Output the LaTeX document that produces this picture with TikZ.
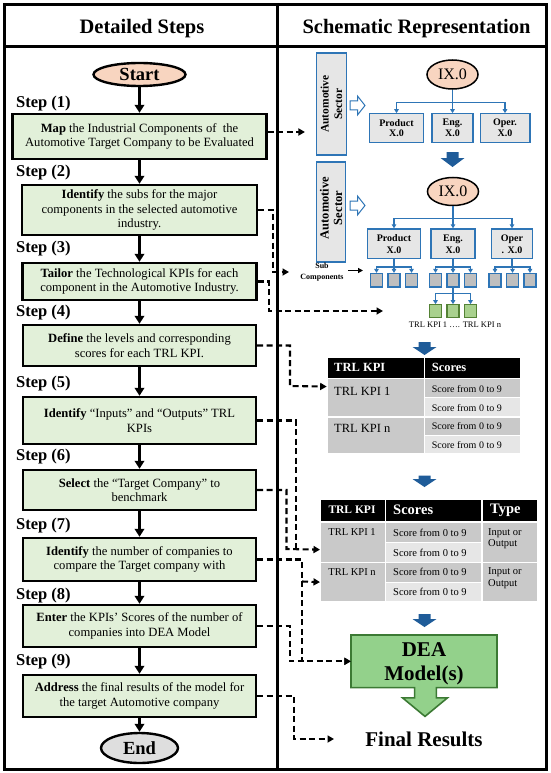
\documentclass[tikz,border=0pt]{standalone}
\usepackage{fontspec}
\setmainfont{Liberation Serif}
\usetikzlibrary{arrows.meta,shapes.geometric,calc}
\definecolor{boxgreen}{HTML}{E2F0D9}
\definecolor{peach}{HTML}{F8D5C0}
\definecolor{endgray}{HTML}{DEDEDE}
\definecolor{tblue}{HTML}{2E75B6}
\definecolor{darkblue}{HTML}{1F5C99}
\definecolor{lgray}{HTML}{E6E6E6}
\definecolor{mgray}{HTML}{C9C9C9}
\definecolor{sqgray}{HTML}{BFBFBF}
\definecolor{sqgreen}{HTML}{A9D18E}
\definecolor{sqgreenb}{HTML}{548235}
\definecolor{deagreen}{HTML}{93D18B}
\definecolor{deaborder}{HTML}{3C7A34}
\newcommand\myfs[2]{\fontsize{#1}{#2}\selectfont}
\newcommand\blkarrow[4]{\fill[darkblue] (#1-6,#2) -- (#1+6,#2) -- (#1+6,#3) -- (#1+12,#3) -- (#1,#4) -- (#1-12,#3) -- (#1-6,#3) -- cycle;}
\newcommand\hollowarrow[1]{\draw[tblue, line width=1pt, fill=white] (350,#1-4.5) -- (357.5,#1-4.5) -- (357.5,#1-9.5) -- (365,#1) -- (357.5,#1+9.5) -- (357.5,#1+4.5) -- (350,#1+4.5) -- cycle;}
\begin{document}
\begin{tikzpicture}[x=1pt,y=-1pt,
  stepbox/.style={draw, line width=2.4pt, fill=boxgreen, align=center, inner sep=0pt, font=\myfs{12.6}{14.4}},
  steplabel/.style={anchor=west, font=\bfseries\myfs{16.5}{18}, inner sep=0pt},
  flow/.style={line width=2.4pt, -{Triangle[width=9.5pt,length=8pt]}},
  dline/.style={line width=2.1pt, dash pattern=on 6pt off 3.5pt},
  dconn/.style={dline, -{Triangle[width=7pt,length=6.5pt]}},
  secbox/.style={draw=tblue, line width=1.4pt, fill=lgray, inner sep=0pt},
  tbox/.style={draw=tblue, line width=1.3pt, fill=lgray, align=center, inner sep=0pt},
  tline/.style={draw=tblue, line width=1.2pt},
  tarrow/.style={tline, -{Triangle[width=4.5pt,length=4pt]}},
  sq/.style={draw=tblue, line width=1.2pt, fill=sqgray, minimum width=12, minimum height=13.5, inner sep=0pt},
  gsq/.style={draw=sqgreenb, line width=1.2pt, fill=sqgreen, minimum width=12, minimum height=13, inner sep=0pt},
  ixell/.style={ellipse, draw, line width=1.5pt, fill=peach, minimum width=51, minimum height=29, inner sep=0pt, font=\myfs{16}{18}},
  cell/.style={draw=white, line width=1.2pt, anchor=north west, inner sep=0pt},
  ctext/.style={anchor=west, inner sep=0pt},
]
\useasboundingbox (0,0) rectangle (550,773);
% frame
\draw[line width=3pt] (4,5) rectangle (546,769);
\draw[line width=3pt] (4,46.5) -- (546,46.5);
\draw[line width=3pt] (277,5) -- (277,769);
\node[font=\bfseries\myfs{20.5}{24}] (h1) at (142,29) {Detailed Steps};
\node[font=\bfseries\myfs{20.5}{24}] (h2) at (416.5,29) {Schematic Representation};

% ---------- left column ----------
\node[ellipse, draw, line width=2.4pt, fill=peach, minimum width=92, minimum height=23, inner sep=0pt, font=\bfseries\myfs{18.5}{20}] (start) at (139.5,74.5) {Start};

\node[stepbox, minimum width=254, minimum height=45] (b1) at (139.5,136.5) {\textbf{Map} the Industrial Components of~ the\\Automotive Target Company to be Evaluated};
\node[stepbox, minimum width=235, minimum height=50] (b2) at (139.5,210) {\textbf{Identify} the subs for the major\\components in the selected automotive\\industry.};
\node[stepbox, minimum width=234, minimum height=37] (b3) at (139.5,281.5) {\textbf{Tailor} the Technological KPIs for each\\component in the Automotive Industry.};
\node[stepbox, minimum width=233, minimum height=41] (b4) at (139.5,345.5) {\textbf{Define} the levels and corresponding\\scores for each TRL KPI.};
\node[stepbox, minimum width=233, minimum height=47] (b5) at (139.5,420.5) {\textbf{Identify} “Inputs” and “Outputs” TRL\\KPIs};
\node[stepbox, minimum width=233, minimum height=40] (b6) at (139.5,490) {\textbf{Select} the “Target Company” to\\benchmark};
\node[stepbox, minimum width=233, minimum height=43] (b7) at (139.5,559.5) {\textbf{Identify} the number of companies to\\compare the Target company with};
\node[stepbox, minimum width=233, minimum height=42] (b8) at (139.5,626) {\textbf{Enter} the KPIs' Scores of the number of\\companies into DEA Model};
\node[stepbox, minimum width=233, minimum height=42] (b9) at (139.5,696) {\textbf{Address} the final results of the model for\\the target Automotive company};

\node[ellipse, draw, line width=2.4pt, fill=endgray, minimum width=77, minimum height=30, inner sep=0pt, font=\bfseries\myfs{18.5}{20}] (end) at (139.5,748) {End};

\node[steplabel] (s1) at (16,104) {Step (1)};
\node[steplabel] (s2) at (16,173) {Step (2)};
\node[steplabel] (s3) at (16,249) {Step (3)};
\node[steplabel] (s4) at (16,313) {Step (4)};
\node[steplabel] (s5) at (16,384) {Step (5)};
\node[steplabel] (s6) at (16,456.5) {Step (6)};
\node[steplabel] (s7) at (16,526) {Step (7)};
\node[steplabel] (s8) at (16,596) {Step (8)};
\node[steplabel] (s9) at (16,661.5) {Step (9)};

\draw[flow] (start.south) -- (b1.north);
\draw[flow] (b1.south) -- (b2.north);
\draw[flow] (b2.south) -- (b3.north);
\draw[flow] (b3.south) -- (b4.north);
\draw[flow] (b4.south) -- (b5.north);
\draw[flow] (b5.south) -- (b6.north);
\draw[flow] (b6.south) -- (b7.north);
\draw[flow] (b7.south) -- (b8.north);
\draw[flow] (b8.south) -- (b9.north);
\draw[flow] (b9.south) -- (end.north);

% ---------- right column ----------
\node[secbox, minimum width=29.7, minimum height=102] (sec1) at (331.5,104) {};
\node[rotate=90, align=center, font=\bfseries\myfs{11.5}{13.5}] (sec1t) at (sec1) {Automotive\\Sector};
\node[secbox, minimum width=28.5, minimum height=100] (sec2) at (331,212) {};
\node[rotate=90, align=center, font=\bfseries\myfs{12.5}{13.5}] (sec2t) at (331,208) {Automotive\\Sector};
\hollowarrow{105.5}
\hollowarrow{205.5}

% tree 1
\node[ixell] (ix1) at (452.5,74.5) {IX.0};
\node[tbox, minimum width=53.4, minimum height=28.3, font=\bfseries\myfs{10}{10.5}] (p1) at (396.5,128) {Product\\X.0};
\node[tbox, minimum width=41, minimum height=28.3, font=\bfseries\myfs{10}{10.5}] (e1) at (452.5,128) {Eng.\\X.0};
\node[tbox, minimum width=49.7, minimum height=28.3, font=\bfseries\myfs{10}{10.5}] (o1) at (505,128) {Oper.\\X.0};
\coordinate (j1) at (452.5,102.6);
\draw[tline] (ix1.south) -- (j1);
\draw[tarrow] (j1) -| (p1.north);
\draw[tarrow] (j1) -- (e1.north);
\draw[tarrow] (j1) -| (o1.north);

\blkarrow{452.5}{152}{158}{167}

% tree 2
\node[ixell, minimum height=28] (ix2) at (453,191.5) {IX.0};
\node[tbox, minimum width=53.5, minimum height=29.6, font=\bfseries\myfs{10}{12}] (p2) at (394,243.8) {Product\\X.0};
\node[tbox, minimum width=44, minimum height=29.6, font=\bfseries\myfs{10}{12}] (e2) at (453,243.8) {Eng.\\X.0};
\node[tbox, minimum width=40.5, minimum height=29.6, font=\bfseries\myfs{10}{12}] (o2) at (512,243.8) {Oper\\. X.0};
\coordinate (j2) at (453,218.4);
\draw[tline] (ix2.south) -- (j2);
\draw[tarrow] (j2) -| (p2.north);
\draw[tarrow] (j2) -- (e2.north);
\draw[tarrow] (j2) -| (o2.north);

\node[sq] (sp1) at (376.5,280.3) {};
\node[sq] (sp2) at (394,280.3) {};
\node[sq] (sp3) at (411.5,280.3) {};
\node[sq] (se1) at (435.5,280.3) {};
\node[sq] (se2) at (453,280.3) {};
\node[sq] (se3) at (470.5,280.3) {};
\node[sq] (so1) at (495,280.3) {};
\node[sq] (so2) at (512.5,280.3) {};
\node[sq] (so3) at (530,280.3) {};
\coordinate (jp) at (394,267);
\coordinate (je) at (453,267);
\coordinate (jo) at (512,267);
\draw[tline] (p2.south) -- (jp);
\draw[tarrow] (jp) -| (sp1.north);
\draw[tarrow] (jp) -- (sp2.north);
\draw[tarrow] (jp) -| (sp3.north);
\draw[tline] (e2.south) -- (je);
\draw[tarrow] (je) -| (se1.north);
\draw[tarrow] (je) -- (se2.north);
\draw[tarrow] (je) -| (se3.north);
\draw[tline] (o2.south) -- (jo);
\draw[tarrow] (jo) -| (so1.north);
\draw[tarrow] (jo) -| (so2.north);
\draw[tarrow] (jo) -| (so3.north);

\node[gsq] (g1) at (435.5,311.3) {};
\node[gsq] (g2) at (453,311.3) {};
\node[gsq] (g3) at (470.5,311.3) {};
\coordinate (jg) at (453,293.5);
\draw[tline] (se2.south) -- (jg);
\draw[tarrow] (jg) -| (g1.north);
\draw[tarrow] (jg) -- (g2.north);
\draw[tarrow] (jg) -| (g3.north);

\node[font=\myfs{8.5}{10}, inner sep=0pt] (kpilist) at (455,325) {TRL KPI 1 …. TRL KPI n};

\node[align=center, font=\bfseries\myfs{8}{11}, inner sep=0pt] (subc) at (322,272.5) {Sub\\Components};
\coordinate (subend) at (363,270.5);
\draw[line width=1.3pt, -{Triangle[width=5pt,length=5pt]}] (348,270.5) -- (subend);

\blkarrow{424.5}{342}{347}{355}

% table 1
\node[cell, fill=black, minimum width=97.3, minimum height=20.5] (t1h1) at (326.7,357) {};
\node[cell, fill=black, minimum width=96, minimum height=20.5] (t1h2) at (424,357) {};
\node[cell, fill=mgray, minimum width=97.3, minimum height=38.9] (t1k1) at (326.7,377.5) {};
\node[cell, fill=mgray, minimum width=97.3, minimum height=36.2] (t1kn) at (326.7,416.4) {};
\node[cell, fill=mgray, minimum width=96, minimum height=19] (t1s1) at (424,377.5) {};
\node[cell, fill=lgray, minimum width=96, minimum height=19.9] (t1s2) at (424,396.5) {};
\node[cell, fill=mgray, minimum width=96, minimum height=18.1] (t1s3) at (424,416.4) {};
\node[cell, fill=lgray, minimum width=96, minimum height=18.1] (t1s4) at (424,434.5) {};
\node[ctext, text=white, font=\bfseries\myfs{12.5}{14}] at (334,367.5) {TRL KPI};
\node[ctext, text=white, font=\bfseries\myfs{12.5}{14}] at (431.6,367.5) {Scores};
\node[ctext, font=\myfs{12.5}{14}] at (334,391) {TRL KPI 1};
\node[ctext, font=\myfs{12.5}{14}] at (334,428) {TRL KPI n};
\node[ctext, font=\myfs{10}{12}] at (431.6,389) {Score from 0 to 9};
\node[ctext, font=\myfs{10}{12}] at (431.6,408.5) {Score from 0 to 9};
\node[ctext, font=\myfs{10}{12}] at (431.6,426.5) {Score from 0 to 9};
\node[ctext, font=\myfs{10}{12}] at (431.6,445) {Score from 0 to 9};

\blkarrow{424.5}{475.5}{479}{487}

% table 2
\node[cell, fill=black, minimum width=65, minimum height=22.7] (t2h1) at (320,498.6) {};
\node[cell, fill=black, minimum width=96.4, minimum height=22.7] (t2h2) at (385,498.6) {};
\node[cell, fill=black, minimum width=55.6, minimum height=22.7] (t2h3) at (481.4,498.6) {};
\node[cell, fill=mgray, minimum width=65, minimum height=40.7] (t2k1) at (320,521.3) {};
\node[cell, fill=mgray, minimum width=65, minimum height=39] (t2kn) at (320,562) {};
\node[cell, fill=mgray, minimum width=96.4, minimum height=20.7] (t2s1) at (385,521.3) {};
\node[cell, fill=lgray, minimum width=96.4, minimum height=20] (t2s2) at (385,542) {};
\node[cell, fill=mgray, minimum width=96.4, minimum height=19.5] (t2s3) at (385,562) {};
\node[cell, fill=lgray, minimum width=96.4, minimum height=19.5] (t2s4) at (385,581.5) {};
\node[cell, fill=mgray, minimum width=55.6, minimum height=40.7] (t2t1) at (481.4,521.3) {};
\node[cell, fill=mgray, minimum width=55.6, minimum height=39] (t2tn) at (481.4,562) {};
\node[text=white, font=\bfseries\myfs{11.5}{13}, inner sep=0pt] at (352,509.5) {TRL KPI};
\node[ctext, text=white, font=\bfseries\myfs{14.5}{16}] at (393,510) {Scores};
\node[ctext, text=white, font=\bfseries\myfs{14.5}{16}] at (490,510) {Type};
\node[font=\myfs{10.5}{12}, inner sep=0pt] at (352,532.5) {TRL KPI 1};
\node[font=\myfs{10.5}{12}, inner sep=0pt] at (352,572) {TRL KPI n};
\node[ctext, font=\myfs{10.5}{12}] at (393,533) {Score from 0 to 9};
\node[ctext, font=\myfs{10.5}{12}] at (393,552.5) {Score from 0 to 9};
\node[ctext, font=\myfs{10.5}{12}] at (393,572) {Score from 0 to 9};
\node[ctext, font=\myfs{10.5}{12}] at (393,591.5) {Score from 0 to 9};
\node[ctext, align=left, font=\myfs{10.5}{11.5}] at (488,538.5) {Input or\\Output};
\node[ctext, align=left, font=\myfs{10.5}{11.5}] at (488,578) {Input or\\Output};

\blkarrow{424.5}{614}{619}{627}

% DEA
\draw[deaborder, line width=1.6pt, fill=deagreen] (351,635) -- (497,635) -- (497,687.6) -- (436.4,687.6) -- (436.4,697.8) -- (447.5,697.8) -- (425,716.4) -- (402.5,697.8) -- (414.6,697.8) -- (414.6,687.6) -- (351,687.6) -- cycle;
\node[minimum width=146, minimum height=52.6, inner sep=0pt] (dea) at (424,661.3) {};
\node[align=center, font=\bfseries\myfs{21}{23.5}, inner sep=0pt] (deat) at (424,664) {DEA\\Model(s)};
\node[font=\bfseries\myfs{21}{24}, inner sep=0pt] (fres) at (424,739) {Final Results};

% ---------- dashed connectors ----------
\coordinate (c1s) at ([yshift=4.5pt]b1.east);
\draw[dconn, shorten >=11pt] (c1s) -- (c1s -| sec1.west);
\coordinate (c2end) at (289,272);
\draw[dconn] (b2.east) -| (273,272) -- (c2end);
\coordinate (c3end) at (383,311);
\draw[dconn] (b3.east) -| (269,311) -- (c3end);
\coordinate (c4t) at ([yshift=11pt]t1k1.west);
\draw[dconn] (b4.east) -| (290,386) -- (c4t);
\coordinate (c56t) at ([yshift=-7.4pt]t2k1.west);
\draw[dline] (b5.east) -| (296,549);
\draw[dconn] (b6.east) -| (286.5,549) -- (c56t);
\draw[dconn] (b7.east) -| ($(dea.west)+(-49,0)$) -- (dea.west);
\coordinate (c7b) at (302,581.5);
\draw[dconn] (c7b) -- (t2kn.west);
\draw[dconn] (b8.east) -| ($(dea.west)+(-61,0)$) -- (dea.west);
\coordinate (c9end) at (334,739);
\draw[dconn] (b9.east) -| (294,739) -- (c9end);
\end{tikzpicture}
\end{document}
